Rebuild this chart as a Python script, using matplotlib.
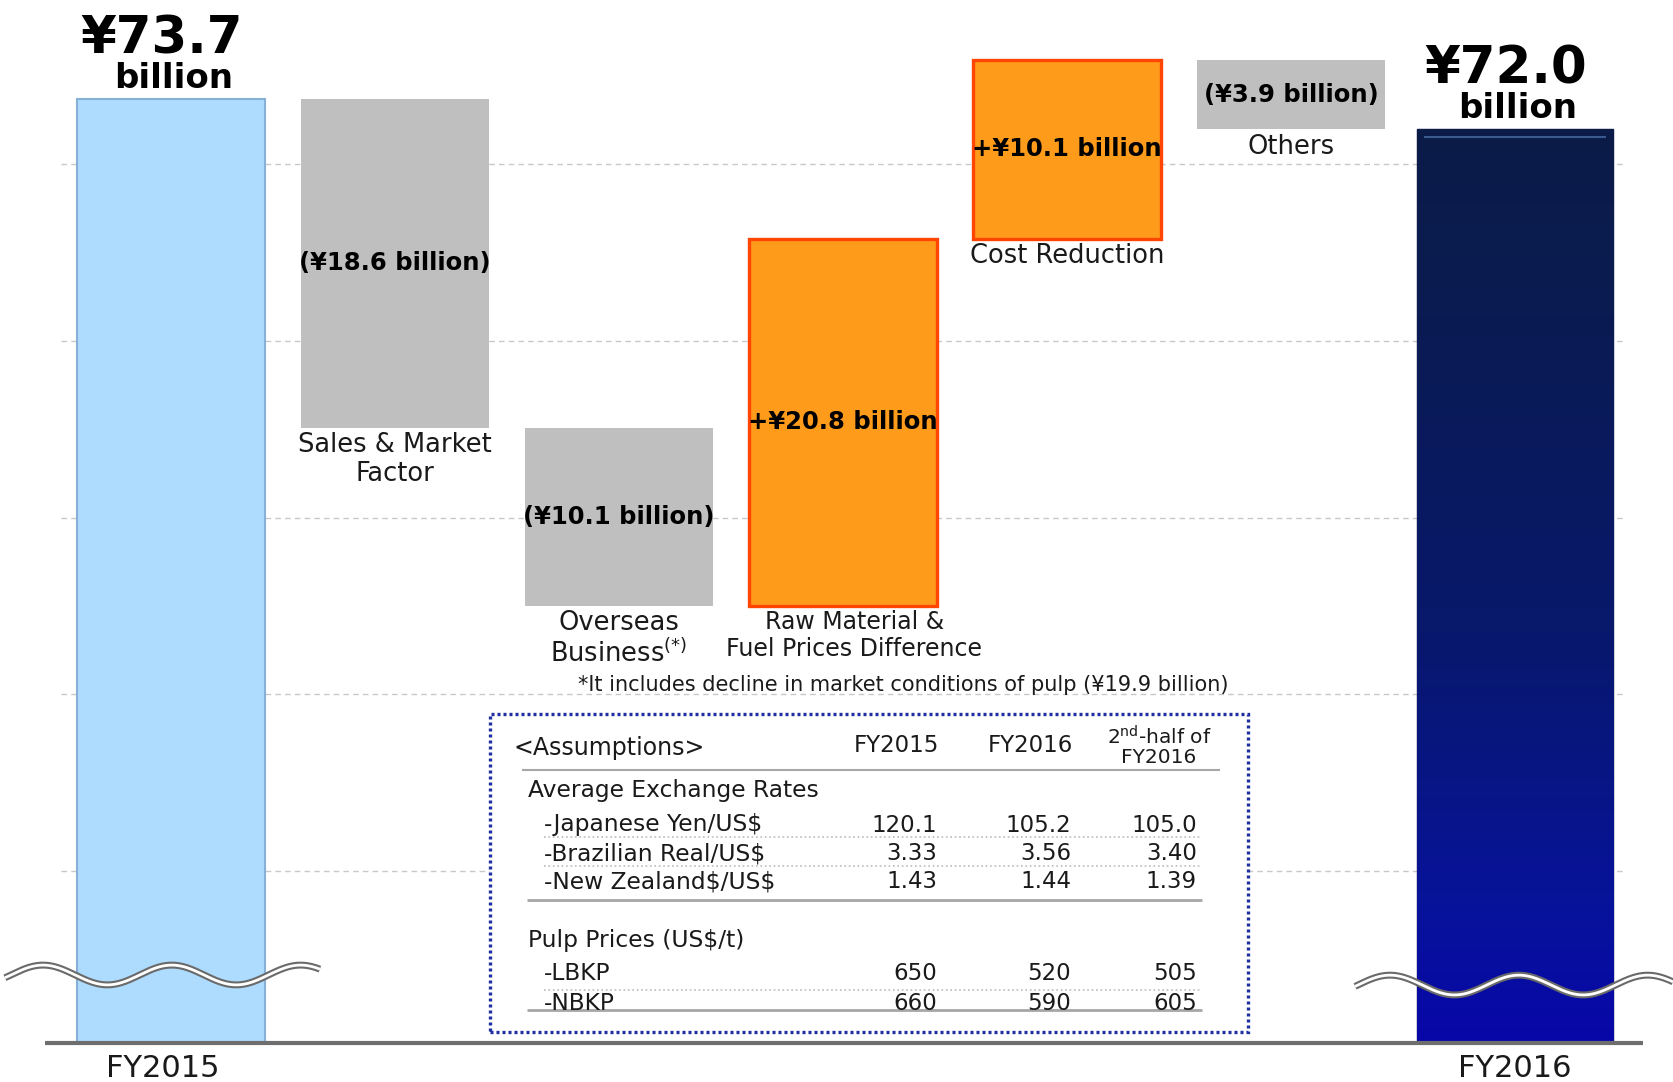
import numpy as np
import matplotlib.pyplot as plt
from matplotlib.colors import LinearSegmentedColormap
from matplotlib.patches import Rectangle

# Waterfall data (billion yen)
start_label = 'FY2015'
end_label = 'FY2016'
start_value = 73.7
end_value = 72.0
step_names = ['Sales & Market\nFactor', 'Overseas\nBusiness$^{\\mathrm{(*)}}$',
              'Raw Material &\nFuel Prices Difference', 'Cost Reduction', 'Others']
step_changes = [-18.6, -10.1, 20.8, 10.1, -3.9]
step_texts = ['(¥18.6 billion)', '(¥10.1 billion)', '+¥20.8 billion',
              '+¥10.1 billion', '(¥3.9 billion)']
footnote = '*It includes decline in market conditions of pulp (¥19.9 billion)'

# Assumptions table
table_title = '<Assumptions>'
table_cols = ['FY2015', 'FY2016', '2$^{\\mathrm{nd}}$-half of\nFY2016']
fx_title = 'Average Exchange Rates'
fx_rows = ['-Japanese Yen/US\\$', '-Brazilian Real/US\\$', '-New Zealand\\$/US\\$']
fx_values = [['120.1', '105.2', '105.0'],
             ['3.33', '3.56', '3.40'],
             ['1.43', '1.44', '1.39']]
pulp_title = 'Pulp Prices (US\\$/t)'
pulp_rows = ['-LBKP', '-NBKP']
pulp_values = [['650', '520', '505'],
               ['660', '590', '605']]

plt.rcParams['font.family'] = 'DejaVu Sans'

fig = plt.figure(figsize=(16.73, 10.82), dpi=100)
ax = fig.add_axes([0, 0, 1, 1])
ax.set_xlim(-0.763, 6.705)
ax.set_ylim(18.04, 79.31)
ax.axis('off')
base = 20.25  # axis is cut (wavy break), bars start here

# grid + baseline
for v in [30, 40, 50, 60, 70]:
    ax.hlines(v, -0.49, 6.49, colors='#C8C8C8', linestyles=(0, (4, 3)), lw=1, zorder=1)
ax.hlines(base, -0.5625, 6.571, colors='#6E6E6E', lw=3, zorder=3)

# start bar
ax.bar(0, start_value - base, bottom=base, width=0.84, color='#ADDCFF',
       edgecolor='#86B0D8', lw=1.5, zorder=2)

# steps
levels = start_value + np.cumsum([0] + step_changes)
lows = np.minimum(levels[:-1], levels[1:])
xs = np.arange(1, len(step_changes) + 1)
for x, low, ch, name, txt in zip(xs, lows, step_changes, step_names, step_texts):
    if ch < 0:
        ax.bar(x, abs(ch), bottom=low, width=0.84, color='#BFBFBF', zorder=2)
    else:
        ax.bar(x, abs(ch), bottom=low, width=0.84, color='#FF9B1B',
               edgecolor='#FF4500', lw=2.4, zorder=2)
    ax.text(x, low + abs(ch) / 2, txt, ha='center', va='center',
            fontsize=17.5, fontweight='bold', zorder=4)
    fs = 17 if 'Fuel' in name else 18.5
    ax.text(x + (0.05 if 'Fuel' in name else 0), low - 0.25, name, ha='center', va='top',
            fontsize=fs, color='#1A1A1A', linespacing=1.15, zorder=4)

# end bar with gradient
end_bar = ax.bar(6, end_value - base, bottom=base, width=0.875, color='#0B1A55',
                 edgecolor='#050B30', lw=1, zorder=2)[0]
cmap = LinearSegmentedColormap.from_list(
    'navy', [(0, '#0707A8'), (0.15, '#07139A'), (0.45, '#08186C'),
             (0.8, '#0A1B52'), (1, '#0B1C48')])
grad = np.linspace(0, 1, 256).reshape(-1, 1)
x0 = end_bar.get_x()
img = ax.imshow(grad, extent=[x0, x0 + end_bar.get_width(), base, end_value],
                origin='lower', aspect='auto', cmap=cmap, zorder=2.5)
img.set_clip_path(end_bar)
# bevel highlight at top of the end bar
ax.hlines(end_value - 0.45, x0 + 0.03, x0 + end_bar.get_width() - 0.03,
          colors='#3A5A8E', lw=1.5, zorder=2.6)
ax.set_xlim(-0.763, 6.705)
ax.set_ylim(18.04, 79.31)

# totals
for x, val in [(-0.04, start_value), (5.96, end_value)]:
    ax.text(x, val + 2.6, '¥%.1f' % val, ha='center', va='baseline',
            fontsize=37, fontweight='bold')
    ax.text(x + 0.05, val + 0.65, 'billion', ha='center', va='baseline',
            fontsize=24.5, fontweight='bold')

ax.text(-0.036, base - 1.42, start_label, ha='center', va='center', fontsize=22, color='#1A1A1A')
ax.text(6.0, base - 1.42, end_label, ha='center', va='center', fontsize=22, color='#1A1A1A')

ax.text(3.27, 40.5, footnote, ha='center', va='center', fontsize=15, color='#1A1A1A', zorder=4)

# wavy axis-break marks
for xa, xb, yc, xcrest in [(-0.741, 0.665, 24.10, -0.571), (5.286, 6.705, 23.53, 5.442)]:
    wx = np.linspace(xa, xb, 300)
    wy = yc + 0.56 * np.cos(2 * np.pi * (wx - xcrest) / 0.575)
    ax.plot(wx, wy, color='#6A6A6A', lw=5, solid_capstyle='butt', zorder=4)
    ax.plot(wx, wy, color='white', lw=2, solid_capstyle='butt', zorder=4.1)

# assumptions table (pixel coords)
tab = fig.add_axes([490 / 1673, 1 - 1032 / 1082, 758 / 1673, 318 / 1082], zorder=5)
tab.set_xlim(490, 1248)
tab.set_ylim(1032, 714)
tab.set_xticks([])
tab.set_yticks([])
tab.set_facecolor('white')
for s in tab.spines.values():
    s.set_visible(False)
tab.add_patch(Rectangle((0, 0), 1, 1, transform=tab.transAxes, fill=False,
                        edgecolor='#1F2FA0', lw=2.4, linestyle=(0, (0.9, 0.9)),
                        clip_on=False))

tc = '#1A1A1A'
tab.text(514, 748, table_title, ha='left', va='center', fontsize=17, color=tc)
col_center = [896, 1030, 1159]
col_right = [937, 1071, 1197]
for cx, c in zip(col_center, table_cols):
    fs = 14.5 if '\n' in c else 16.5
    tab.text(cx, 746, c, ha='center', va='center', fontsize=fs, color=tc, linespacing=1.0)
tab.hlines(770, 522, 1220, color='#A6A6A6', lw=1.5)

tab.text(528, 791, fx_title, ha='left', va='center', fontsize=16.8, color=tc)
for i, (lab, vals) in enumerate(zip(fx_rows, fx_values)):
    y = 825 + 28.5 * i
    tab.text(544, y, lab, ha='left', va='center', fontsize=16.8, color=tc)
    for rx, v in zip(col_right, vals):
        tab.text(rx, y, v, ha='right', va='center', fontsize=16.5, color=tc)
    if i < len(fx_rows) - 1:
        tab.hlines(y + 12, 544, 1202, color='#BBBBBB', lw=1.2, linestyles=':')
tab.hlines(900, 527, 1202, color='#A6A6A6', lw=2)

tab.text(528, 940, pulp_title, ha='left', va='center', fontsize=16.8, color=tc)
for i, (lab, vals) in enumerate(zip(pulp_rows, pulp_values)):
    y = 974 + 29 * i
    tab.text(544, y, lab, ha='left', va='center', fontsize=16.8, color=tc)
    for rx, v in zip(col_right, vals):
        tab.text(rx, y, v, ha='right', va='center', fontsize=16.5, color=tc)
    if i < len(pulp_rows) - 1:
        tab.hlines(y + 16, 544, 1202, color='#BBBBBB', lw=1.2, linestyles=':')
tab.hlines(1010, 527, 1202, color='#A6A6A6', lw=2)

fig.savefig('out.png', dpi=100)
